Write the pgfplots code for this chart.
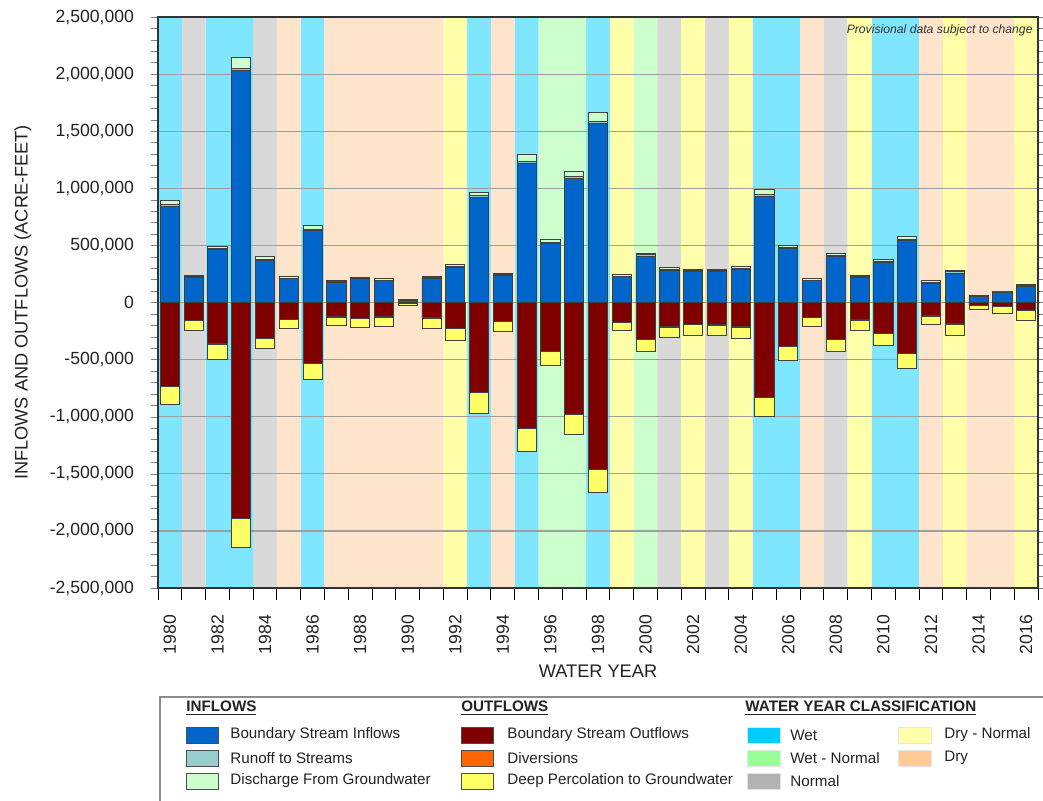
\documentclass[border=0pt]{standalone}
\usepackage{pgfplots}
\pgfplotsset{compat=1.18}
\usepackage{pgfplotstable}
\usepackage{fontspec}
\setmainfont{Liberation Sans}

\definecolor{bsi}{HTML}{0066CC}
\definecolor{rts}{HTML}{99CCCC}
\definecolor{dfg}{HTML}{CCFFCC}
\definecolor{bso}{HTML}{800000}
\definecolor{dvs}{HTML}{FF6600}
\definecolor{dpg}{HTML}{FFFF66}
\definecolor{lw}{HTML}{00CCFF}
\definecolor{lwn}{HTML}{99FF99}
\definecolor{ln}{HTML}{B2B2B2}
\definecolor{ldn}{HTML}{FFFFAA}
\definecolor{ld}{HTML}{FFCC99}
\definecolor{bw}{HTML}{80E5FF}
\definecolor{bwn}{HTML}{CCFFCC}
\definecolor{bn}{HTML}{D9D9D9}
\definecolor{bdn}{HTML}{FFFFAA}
\definecolor{bd}{HTML}{FFE4CC}
\definecolor{txt}{HTML}{222222}

% water year classification: 1 = year belongs to class
\pgfplotstableread{
year W WN N DN D
1980 1 0 0 0 0
1981 0 0 1 0 0
1982 1 0 0 0 0
1983 1 0 0 0 0
1984 0 0 1 0 0
1985 0 0 0 0 1
1986 1 0 0 0 0
1987 0 0 0 0 1
1988 0 0 0 0 1
1989 0 0 0 0 1
1990 0 0 0 0 1
1991 0 0 0 0 1
1992 0 0 0 1 0
1993 1 0 0 0 0
1994 0 0 0 0 1
1995 1 0 0 0 0
1996 0 1 0 0 0
1997 0 1 0 0 0
1998 1 0 0 0 0
1999 0 0 0 1 0
2000 0 1 0 0 0
2001 0 0 1 0 0
2002 0 0 0 1 0
2003 0 0 1 0 0
2004 0 0 0 1 0
2005 1 0 0 0 0
2006 1 0 0 0 0
2007 0 0 0 0 1
2008 0 0 1 0 0
2009 0 0 0 1 0
2010 1 0 0 0 0
2011 1 0 0 0 0
2012 0 0 0 0 1
2013 0 0 0 1 0
2014 0 0 0 0 1
2015 0 0 0 0 1
2016 0 0 0 1 0
}\classes

% inflows and outflows (acre-feet)
\pgfplotstableread{
year bsi rts dfg bso dvs dpg
1980 845000 10000 35000 -731000 -2000 -162000
1981 222000 6000 8000 -155000 -1000 -84000
1982 465000 8000 17000 -362000 -1000 -131000
1983 2035000 15000 95000 -1888000 -2000 -256000
1984 370000 10000 23000 -315000 -1000 -90000
1985 208000 5000 12000 -146000 -1000 -78000
1986 630000 10000 31000 -532000 -1000 -140000
1987 180000 5000 11000 -126000 -1000 -72000
1988 208000 5000 9000 -140000 -1000 -81000
1989 190000 6000 11000 -126000 -1000 -78000
1990 22000 2000 2000 -5000 0 -17000
1991 210000 6000 12000 -134000 -1000 -90000
1992 310000 8000 15000 -225000 -1000 -110000
1993 922000 12000 32000 -784000 -2000 -182000
1994 237000 6000 11000 -164000 -1000 -89000
1995 1222000 15000 64000 -1099000 -2000 -203000
1996 514000 12000 28000 -424000 -1000 -128000
1997 1085000 15000 50000 -977000 -2000 -173000
1998 1565000 20000 78000 -1462000 -2000 -197000
1999 226000 5000 11000 -170000 -1000 -75000
2000 400000 18000 14000 -322000 -1000 -104000
2001 284000 8000 14000 -213000 -1000 -93000
2002 272000 6000 11000 -193000 -1000 -93000
2003 270000 8000 14000 -196000 -1000 -95000
2004 293000 6000 13000 -213000 -1000 -96000
2005 932000 15000 45000 -830000 -2000 -162000
2006 474000 10000 18000 -383000 -1000 -122000
2007 190000 6000 11000 -129000 -1000 -78000
2008 400000 14000 12000 -322000 -1000 -104000
2009 221000 7000 11000 -152000 -1000 -90000
2010 352000 10000 14000 -269000 -1000 -110000
2011 541000 12000 22000 -442000 -1000 -136000
2012 168000 8000 14000 -117000 -1000 -78000
2013 258000 10000 12000 -187000 -1000 -99000
2014 55000 3000 3000 -25000 0 -32000
2015 88000 4000 4000 -36000 0 -58000
2016 145000 6000 4000 -67000 0 -88000
}\flows

\begin{document}
\begin{tikzpicture}
\useasboundingbox (0,0) rectangle (521.5pt,400pt);
\pgfplotsset{common/.style={scale only axis, width=440pt, height=285.5pt,
  at={(79pt,106pt)}, anchor=south west, xmin=1979.5, xmax=2016.5,
  enlargelimits=false}}

% background bands (water year classification)
\begin{axis}[common, ymin=0, ymax=1,
  axis x line*=bottom, axis y line=none,
  xtick={1979.5,1980.5,...,2016.5}, xticklabels={},
  tick align=outside, major tick length=6pt,
  xtick style={black, line width=0.5pt}]
\addplot[ybar, bar width=11.9pt, bar shift=0pt, fill=bw, draw=none] table[x=year,y=W]{\classes};
\addplot[ybar, bar width=11.9pt, bar shift=0pt, fill=bwn, draw=none] table[x=year,y=WN]{\classes};
\addplot[ybar, bar width=11.9pt, bar shift=0pt, fill=bn, draw=none] table[x=year,y=N]{\classes};
\addplot[ybar, bar width=11.9pt, bar shift=0pt, fill=bdn, draw=none] table[x=year,y=DN]{\classes};
\addplot[ybar, bar width=11.9pt, bar shift=0pt, fill=bd, draw=none] table[x=year,y=D]{\classes};
\end{axis}

% inflows
\begin{axis}[common, ybar stacked, bar width=9.6pt,
  ymin=-2500000, ymax=2500000,
  ytick={-2500000,-2000000,-1500000,-1000000,-500000,0,500000,1000000,1500000,2000000,2500000},
  minor y tick num=4, scaled y ticks=false,
  /pgf/number format/fixed, /pgf/number format/1000 sep={,},
  /pgf/number format/assume math mode=true,
  tick align=outside, major tick length=3.5pt, minor tick length=3.5pt,
  ytick pos=both, yticklabel pos=left,
  xtick={1980,1982,...,2016}, xtick style={draw=none},
  xtick pos=lower,
  yticklabel shift=5pt, xticklabel shift=6.5pt,
  tick label style={font=\fontsize{8.8}{10}\selectfont, text=txt},
  xticklabel style={rotate=90, anchor=east, /pgf/number format/1000 sep={}},
  ymajorgrids, major grid style={draw=black!38, line width=0.6pt},
  axis line style={black!80, line width=0.6pt},
  ylabel={INFLOWS AND OUTFLOWS (ACRE-FEET)},
  xlabel={WATER YEAR},
  label style={font=\fontsize{9.1}{11}\selectfont, text=txt},
  ylabel style={at={(axis description cs:-0.1534,0.5)}, anchor=center},
  xlabel style={at={(axis description cs:0.5,-0.1454)}, anchor=center}]
\addplot[fill=bsi, draw=black!75, line width=0.4pt] table[x=year,y=bsi]{\flows};
\addplot[fill=rts, draw=black!75, line width=0.4pt] table[x=year,y=rts]{\flows};
\addplot[fill=dfg, draw=black!75, line width=0.4pt] table[x=year,y=dfg]{\flows};
\node[anchor=east, font=\itshape\fontsize{6.1}{7}\selectfont, text=black!80, inner sep=0pt]
  at (axis description cs:0.9943,0.977) {Provisional data subject to change};
\end{axis}

% outflows
\begin{axis}[common, ybar stacked, bar width=9.6pt,
  ymin=-2500000, ymax=2500000, hide axis]
\addplot[fill=bso, draw=black!75, line width=0.4pt] table[x=year,y=bso]{\flows};
\addplot[fill=dvs, draw=black!75, line width=0.4pt] table[x=year,y=dvs]{\flows};
\addplot[fill=dpg, draw=black!75, line width=0.4pt] table[x=year,y=dpg]{\flows};
\end{axis}

% legend
\begin{scope}[x=0.5pt, y=0.5pt]
\tikzset{lt/.style={anchor=west, font=\fontsize{7.6}{9}\selectfont, text=txt, inner sep=2pt},
         lh/.style={anchor=west, font=\bfseries\fontsize{7.6}{9}\selectfont, text=txt, inner sep=0pt},
         sw/.style={draw=black!70, line width=0.4pt},
         sc/.style={draw=black!10, line width=0.4pt}}
\draw[black!45, line width=0.7pt] (160,103) rectangle (1100,-30);
\node[lh] at (186,92) {\underline{INFLOWS}};
\node[lh] at (461,92) {\underline{OUTFLOWS}};
\node[lh] at (745,92) {\underline{WATER YEAR CLASSIFICATION}};
% inflows
\filldraw[sw, fill=bsi] (186,57) rectangle (218,73);
\node[lt] at (226,65) {Boundary Stream Inflows};
\filldraw[sw, fill=rts] (186,34) rectangle (218,50);
\node[lt] at (226,42) {Runoff to Streams};
\filldraw[sw, fill=dfg] (186,11) rectangle (218,27);
\node[lt] at (226,19) {Discharge From Groundwater};
% outflows
\filldraw[sw, fill=bso] (461,57) rectangle (493,73);
\node[lt] at (503,65) {Boundary Stream Outflows};
\filldraw[sw, fill=dvs] (461,34) rectangle (493,50);
\node[lt] at (503,42) {Diversions};
\filldraw[sw, fill=dpg] (461,11) rectangle (493,27);
\node[lt] at (503,19) {Deep Percolation to Groundwater};
% classification
\filldraw[sc, fill=lw] (747,57) rectangle (780,73);
\node[lt] at (786,65) {Wet};
\filldraw[sc, fill=lwn] (747,34) rectangle (780,50);
\node[lt] at (786,42) {Wet - Normal};
\filldraw[sc, fill=ln] (747,11) rectangle (780,27);
\node[lt] at (786,19) {Normal};
\filldraw[sc, fill=ldn] (898,57) rectangle (931,73);
\node[lt] at (940,65) {Dry - Normal};
\filldraw[sc, fill=ld] (898,34) rectangle (931,50);
\node[lt] at (940,42) {Dry};
\end{scope}
\end{tikzpicture}
\end{document}
